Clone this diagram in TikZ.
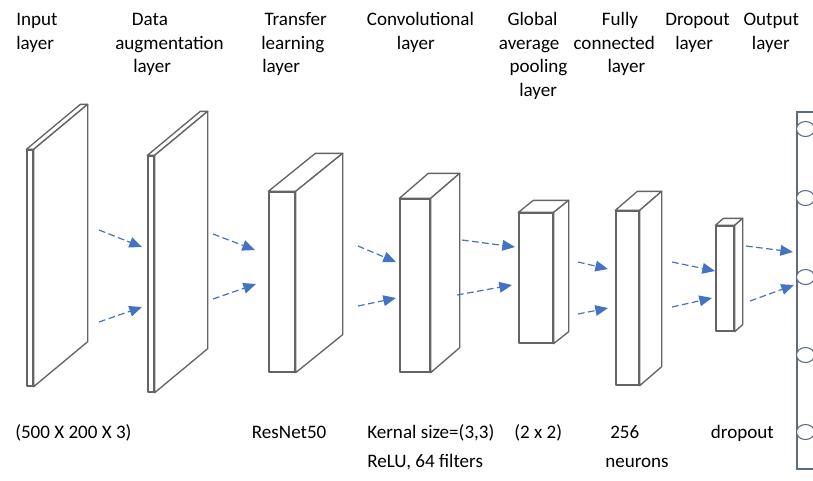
\documentclass[tikz,border=0pt]{standalone}
\usepackage{fontspec}
\setmainfont{Carlito}
\usetikzlibrary{arrows.meta,calc,fit,shapes.geometric}
\definecolor{arrowblue}{RGB}{68,114,196}
\definecolor{slabgray}{RGB}{100,100,100}
\definecolor{outblue}{RGB}{92,106,134}
\newcommand\slabbox[7]{%
  \coordinate (#1-a) at (#2,#3);
  \coordinate (#1-b) at (#4,#5);
  \node[slab, fit=(#1-a)(#1-b)] (#1) {};
  \filldraw[slabline] (#1.north west) -- ++(#6,#7) -- ($(#1.north east)+(#6,#7)$) -- (#1.north east) -- cycle;
  \filldraw[slabline] (#1.north east) -- ($(#1.north east)+(#6,#7)$) -- ($(#1.south east)+(#6,#7)$) -- (#1.south east) -- cycle;
}
\begin{document}
\begin{tikzpicture}[x=0.75pt,y=-0.75pt,
  slab/.style={draw=slabgray, fill=white, line width=1pt, inner sep=0pt, line join=round},
  slabline/.style={draw=slabgray, fill=white, line width=1pt, line join=round},
  flow/.style={arrowblue, line width=0.9pt, dash pattern=on 5pt off 2.6pt, -{Triangle[length=9.5pt,width=8pt]}},
  lbl/.style={anchor=base west, inner sep=0pt, font=\fontsize{14.3}{17.5}\selectfont},
  outbox/.style={draw=outblue, line width=0.8pt, inner sep=0pt},
  neuron/.style={draw=outblue, fill=white, line width=0.8pt, ellipse, inner sep=0pt, minimum width=13.5pt, minimum height=11.25pt},
]
\useasboundingbox (0,0) rectangle (813,480);
\clip (0,0) rectangle (813,480);

% layers
\slabbox{in}{27}{150}{33}{386}{54}{-45}
\slabbox{aug}{148}{156}{154}{392}{53}{-44}
\slabbox{tl}{269}{192}{295}{372}{47}{-38}
\slabbox{conv}{400}{199}{430}{372}{29}{-25}
\slabbox{gap}{519}{213}{553}{343}{15}{-12}
\slabbox{fc}{616}{211}{639}{385}{22}{-19}
\slabbox{drop}{716}{226}{734}{331}{8}{-7}

% output layer
\coordinate (out-a) at (797,112);
\coordinate (out-b) at (840,469);
\node[outbox, fit=(out-a)(out-b)] (out) {};
\foreach \i/\y in {1/129,2/198,3/277,4/355,5/432}{
  \node[neuron] (n\i) at (805.5,\y) {};
}

% arrows
\foreach \n/\sx/\sy/\ex/\ey in {
  1/99/230/142/247, 2/99/322/142/307,
  3/213/234/255/250, 4/213/299/256/284,
  5/358/246/396/262, 6/358/306/396/298,
  7/462/240/515/247, 8/457/295/512/285,
  9/578/262/608/269, 10/578/314/608/308,
  11/672/262/715/271, 12/672/307/712/298,
  13/746/246/793/252, 14/750/301/794/285}{
  \coordinate (s\n) at (\sx,\sy);
  \coordinate (e\n) at (\ex,\ey);
  \draw[flow] (s\n) -- (e\n);
}

% top labels
\node[lbl] (t1a) at (16,25.5) {Input};
\node[lbl] (t1b) at (16,49) {layer};
\node[lbl] (t2a) at (131.7,25.5) {Data};
\node[lbl] (t2b) at (115,49) {augmentation};
\node[lbl] (t2c) at (133,72.5) {layer};
\node[lbl] (t3a) at (264.3,25.5) {Transfer};
\node[lbl] (t3b) at (261,49) {learning};
\node[lbl] (t3c) at (262,72.5) {layer};
\node[lbl] (t4a) at (366.7,25.5) {Convolutional};
\node[lbl] (t4b) at (396.7,49) {layer};
\node[lbl] (t5a) at (507.3,25.5) {Global};
\node[lbl] (t5b) at (498.7,49) {average};
\node[lbl] (t5c) at (509.3,72.5) {pooling};
\node[lbl] (t5d) at (519,96) {layer};
\node[lbl] (t6a) at (601.7,25.5) {Fully};
\node[lbl] (t6b) at (573.3,49) {connected};
\node[lbl] (t6c) at (607.3,72.5) {layer};
\node[lbl] (t7a) at (665,25.5) {Dropout};
\node[lbl] (t7b) at (675,49) {layer};
\node[lbl] (t8a) at (743.3,25.5) {Output};
\node[lbl] (t8b) at (751.7,49) {layer};

% bottom labels
\node[lbl] (b1) at (15,438) {(500 X 200 X 3)};
\node[lbl] (b2) at (251.7,438) {ResNet50};
\node[lbl] (b3) at (367,438) {Kernal size=(3,3)};
\node[lbl] (b4) at (514,438) {(2 x 2)};
\node[lbl] (b5) at (610,438) {256};
\node[lbl] (b6) at (710.7,438) {dropout};
\node[lbl] (b7) at (367,467) {ReLU, 64 filters};
\node[lbl] (b8) at (605,467) {neurons};
\end{tikzpicture}
\end{document}
